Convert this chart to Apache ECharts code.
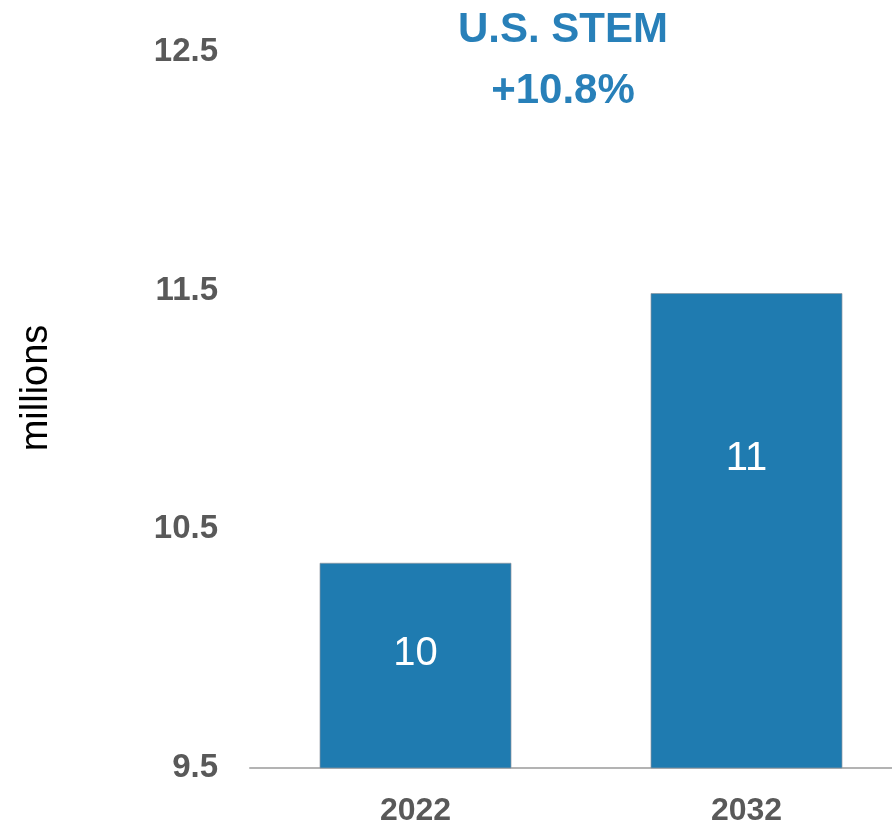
<html>
<head>
    <meta charset="utf-8">
    <title>U.S. STEM</title>
    <script src="https://cdn.jsdelivr.net/npm/echarts@6/dist/echarts.min.js"></script>
    <style>
        body { margin: 0; background: #fff; }
        #chartmain { width: 892px; height: 826px; }
    </style>
</head>
<body>
    <div id="chartmain"></div>
    <script type="text/javascript">
        // 数据
        var years = ['2022', '2032'];
        var employment = [10.36, 11.49];
        var yTicks = [9.5, 10.5, 11.5, 12.5];
        var titleLines = ['U.S. STEM', '+10.8%'];

        var myChart = echarts.init(document.getElementById('chartmain'));

        var labelSpots = [['50%', '44.5%'], ['50%', '35%']];

        myChart.setOption({
            animation: false,
            title: {
                text: titleLines.join('\n'),
                left: 558,
                top: -5,
                textAlign: 'center',
                textStyle: {
                    fontFamily: 'Liberation Sans',
                    fontSize: 42,
                    fontWeight: 'bold',
                    color: '#2880b9',
                    lineHeight: 61
                }
            },
            grid: {
                left: 250,
                width: 662,
                top: 52,
                bottom: 58,
                outerBoundsMode: 'none'
            },
            xAxis: {
                type: 'category',
                data: years,
                axisTick: { show: false },
                axisLine: {
                    lineStyle: { color: '#b3b3b3', width: 2 }
                },
                axisLabel: {
                    margin: 27,
                    fontFamily: 'Liberation Sans',
                    fontSize: 32,
                    fontWeight: 'bold',
                    color: '#595959'
                }
            },
            yAxis: {
                type: 'value',
                min: yTicks[0],
                max: yTicks[yTicks.length - 1],
                interval: 1,
                name: 'millions',
                nameLocation: 'middle',
                nameGap: 194,
                nameTextStyle: {
                    fontFamily: 'Liberation Sans',
                    fontSize: 38,
                    color: '#000',
                    padding: [0, 0, 0, 44]
                },
                splitLine: { show: false },
                axisLine: { show: false },
                axisTick: { show: false },
                axisLabel: {
                    margin: 32,
                    fontFamily: 'Liberation Sans',
                    fontSize: 33,
                    fontWeight: 'bold',
                    color: '#595959',
                    formatter: function (v) { return v.toFixed(1); }
                }
            },
            series: [
                {
                    type: 'bar',
                    barWidth: 192,
                    itemStyle: {
                        color: '#1f7bb0',
                        borderColor: 'rgba(140,150,160,0.7)',
                        borderWidth: 1
                    },
                    label: {
                        show: true,
                        align: 'center',
                        verticalAlign: 'middle',
                        fontFamily: 'Liberation Sans',
                        fontSize: 40,
                        color: '#fff',
                        formatter: function (p) { return Math.round(p.value); }
                    },
                    data: employment.map(function (v, i) {
                        return { value: v, label: { position: labelSpots[i] } };
                    })
                }
            ]
        });
    </script>
</body>
</html>
